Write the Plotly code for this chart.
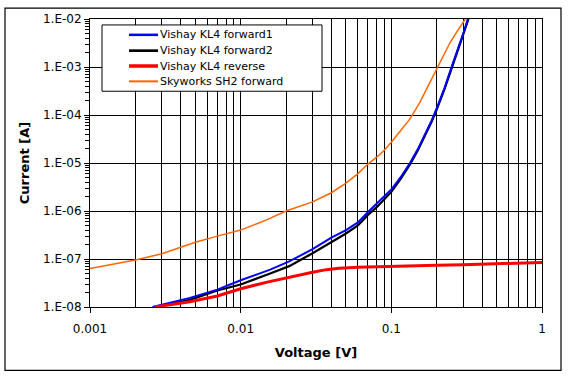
import plotly.graph_objects as go

# ---------------- data ----------------
v_fwd1 = [0.0026, 0.0035, 0.0046, 0.007, 0.01, 0.0157, 0.021, 0.03, 0.04, 0.05, 0.06,
          0.07, 0.08, 0.09, 0.1, 0.115, 0.133, 0.15, 0.167, 0.185, 0.2, 0.225, 0.251, 0.28, 0.3, 0.322]
i_fwd1 = [1.0e-8, 1.26e-8, 1.55e-8, 2.3e-8, 3.6e-8, 6.0e-8, 8.9e-8, 1.6e-7, 2.8e-7, 4.0e-7, 5.8e-7,
          9.5e-7, 1.41e-6, 2.0e-6, 2.8e-6, 5.0e-6, 1.0e-5, 1.95e-5, 3.8e-5, 7.6e-5, 1.38e-4, 3.6e-4, 1.0e-3,
          2.6e-3, 4.9e-3, 1.0e-2]

v_fwd2 = [0.0028, 0.0046, 0.007, 0.01, 0.0157, 0.021, 0.03, 0.04, 0.05, 0.06,
          0.07, 0.08, 0.09, 0.1, 0.115, 0.133, 0.15, 0.167, 0.185, 0.2, 0.225, 0.252, 0.28, 0.3, 0.325]
i_fwd2 = [1.0e-8, 1.41e-8, 2.2e-8, 2.95e-8, 5.0e-8, 7.1e-8, 1.32e-7, 2.24e-7, 3.4e-7, 5.0e-7,
          8.3e-7, 1.2e-6, 1.74e-6, 2.5e-6, 4.6e-6, 9.3e-6, 1.85e-5, 3.6e-5, 7.2e-5, 1.3e-4, 3.4e-4, 9.6e-4,
          2.5e-3, 4.7e-3, 1.0e-2]

v_rev = [0.0027, 0.0035, 0.0046, 0.007, 0.01, 0.015, 0.021, 0.03, 0.037, 0.045, 0.06,
         0.08, 0.1, 0.133, 0.2, 0.3, 0.5, 0.7, 1.0]
i_rev = [1.0e-8, 1.12e-8, 1.29e-8, 1.7e-8, 2.4e-8, 3.3e-8, 4.2e-8, 5.3e-8, 6.0e-8, 6.4e-8, 6.7e-8,
         6.9e-8, 7.1e-8, 7.3e-8, 7.4e-8, 7.6e-8, 7.9e-8, 8.3e-8, 8.5e-8]

v_sky = [0.001, 0.0015, 0.002, 0.003, 0.004, 0.005, 0.007, 0.01, 0.015, 0.02, 0.03, 0.04, 0.05,
         0.06, 0.07, 0.08, 0.09, 0.1, 0.115, 0.133, 0.155, 0.175, 0.2, 0.22, 0.245, 0.27, 0.293, 0.31]
i_sky = [6.3e-8, 7.9e-8, 9.5e-8, 1.29e-7, 1.74e-7, 2.24e-7, 3.0e-7, 4.0e-7, 6.6e-7, 1.0e-6, 1.55e-6, 2.4e-6, 3.8e-6,
         6.0e-6, 9.5e-6, 1.32e-5, 1.86e-5, 2.7e-5, 4.7e-5, 8.3e-5, 1.86e-4, 4.0e-4, 8.9e-4, 1.66e-3,
         3.2e-3, 5.2e-3, 7.6e-3, 1.0e-2]

series_names = ["Vishay KL4 forward1", "Vishay KL4 forward2", "Vishay KL4 reverse", "Skyworks SH2 forward"]
series_colors = ["#0000FF", "#000000", "#FF0000", "#FF6600"]
series_widths = [2, 2.2, 3, 1.5]

x_tickvals = [0.001, 0.01, 0.1, 1]
x_ticktext = ["0.001", "0.01", "0.1", "1"]
y_tickvals = [1e-8, 1e-7, 1e-6, 1e-5, 1e-4, 1e-3, 1e-2]
y_ticktext = ["1.E-08", "1.E-07", "1.E-06", "1.E-05", "1.E-04", "1.E-03", "1.E-02"]

FONT = "DejaVu Sans"

fig = go.Figure()
# draw order: forward2 below forward1, reverse above, skyworks last
for idx, (vx, iy) in [(1, (v_fwd2, i_fwd2)), (0, (v_fwd1, i_fwd1)),
                      (2, (v_rev, i_rev)), (3, (v_sky, i_sky))]:
    fig.add_trace(go.Scatter(x=vx, y=iy, name=series_names[idx], mode="lines",
                             line=dict(color=series_colors[idx], width=series_widths[idx]),
                             showlegend=False))

L, R, T, B = 90, 26, 16, 70
W, H = 568, 377
pw, ph = W - L - R, H - T - B

def px_x(p):
    return (p - L) / pw

def px_y(p):
    return (H - B - p) / ph

shapes = [
    # outer chart border
    dict(type="rect", xref="paper", yref="paper",
         x0=px_x(5), x1=px_x(561), y0=px_y(371), y1=px_y(5),
         line=dict(color="black", width=1.2), fillcolor="rgba(0,0,0,0)", layer="below"),
    # legend box
    dict(type="rect", xref="paper", yref="paper",
         x0=px_x(102), x1=px_x(322), y0=px_y(89), y1=px_y(22),
         line=dict(color="black", width=1), fillcolor="white", layer="above"),
]
annotations = []
row_y = [32, 48, 63.5, 79]
for k, name in enumerate(series_names):
    shapes.append(dict(type="line", xref="paper", yref="paper",
                       x0=px_x(129), x1=px_x(158), y0=px_y(row_y[k]), y1=px_y(row_y[k]),
                       line=dict(color=series_colors[k], width=series_widths[k] + 0.5), layer="above"))
    annotations.append(dict(xref="paper", yref="paper", x=px_x(159), y=px_y(row_y[k]),
                            xanchor="left", yanchor="middle", showarrow=False, text=name,
                            borderpad=0,
                            font=dict(family=FONT, size=11, color="black")))

fig.update_layout(
    width=W, height=H,
    margin=dict(l=L, r=R, t=T, b=B, pad=0),
    paper_bgcolor="white", plot_bgcolor="white",
    font=dict(family=FONT, size=12, color="black"),
    showlegend=False,
    shapes=shapes,
    annotations=annotations,
    xaxis=dict(type="log", range=[-3, 0], tickvals=x_tickvals, ticktext=x_ticktext,
               ticks="outside", ticklen=5, tickcolor="black", tickwidth=1,
               tickfont=dict(family=FONT, size=12),
               showgrid=True, gridcolor="black", gridwidth=1,
               minor=dict(dtick="D1", showgrid=True, gridcolor="black", gridwidth=1, ticks=""),
               showline=True, linecolor="black", linewidth=1, mirror=True,
               zeroline=False, ticklabelstandoff=6,
               title=dict(text="<b>Voltage [V]</b>", font=dict(size=13, family=FONT), standoff=12)),
    yaxis=dict(type="log", range=[-8, -2], tickvals=y_tickvals, ticktext=y_ticktext,
               ticks="outside", ticklen=5, tickcolor="black", tickwidth=1,
               tickfont=dict(family=FONT, size=12),
               showgrid=True, gridcolor="black", gridwidth=1,
               minor=dict(dtick="D1", showgrid=False, ticks="outside", ticklen=4, tickcolor="black"),
               showline=True, linecolor="black", linewidth=1, mirror=True,
               zeroline=False,
               title=dict(text="<b>Current [A]</b>", font=dict(size=13, family=FONT), standoff=10)),
)

fig.write_html("out.html", post_script="document.body.style.margin='0';",
               config={"displayModeBar": False})
